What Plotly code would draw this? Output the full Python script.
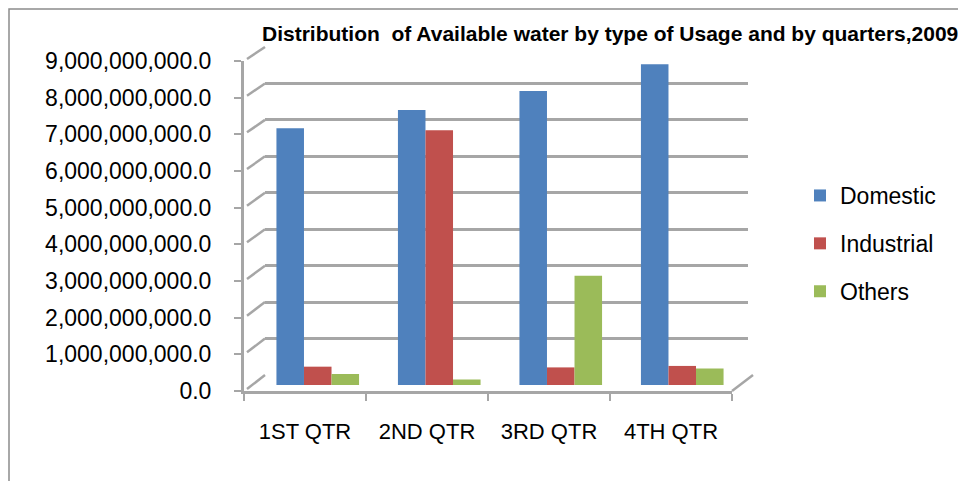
import plotly.graph_objects as go

categories = ["1ST QTR", "2ND QTR", "3RD QTR", "4TH QTR"]
domestic = [7.0e9, 7.5e9, 8.02e9, 8.75e9]
industrial = [0.5e9, 6.95e9, 0.48e9, 0.52e9]
others = [0.3e9, 0.15e9, 2.98e9, 0.45e9]
tick_vals = [i * 1e9 for i in range(10)]
tick_text = [f"{v:,.1f}" for v in tick_vals]
series_names = ["Domestic", "Industrial", "Others"]
colors = ["#4F81BD", "#C0504D", "#9BBB59"]

W, H = 966, 481
OFF = 8  # page body margin
def px(x): return (x - OFF) / W
def py(y): return 1 - (y - OFF) / H

# front plane (labels), back wall (gridlines), mid plane (bars) in screen px
front = dict(x0=244, x1=732, y0=391, y9=61)
back = dict(x0=265, x1=748, y0=375, y9=47)
mid = dict(x0=257, x1=743, y0=385, y9=55)
YMAX = 9e9
XR = [-0.5, len(categories) - 0.5]

fig = go.Figure()
# front axes anchor (xy)
fig.add_trace(go.Scatter(x=categories, y=[0]*4, mode="markers", marker_opacity=0,
                         showlegend=False, hoverinfo="skip", xaxis="x", yaxis="y"))
# back wall anchor (x2y2)
fig.add_trace(go.Scatter(x=categories, y=[0]*4, mode="markers", marker_opacity=0,
                         showlegend=False, hoverinfo="skip", xaxis="x2", yaxis="y2"))
# bars on mid plane (x3y3), drawn above the back wall
for name, vals, c in zip(series_names, [domestic, industrial, others], colors):
    fig.add_trace(go.Bar(x=categories, y=vals, name=name, marker_color=c,
                         marker_line=dict(color=c, width=0), legendgroup=name,
                         xaxis="x3", yaxis="y3"))

grid_c = "#A6A6A6"
font_main = "Liberation Sans, Arial, sans-serif"
hidden = dict(automargin=False, showticklabels=False, showgrid=False, zeroline=False,
              showline=False, fixedrange=True)

fig.update_layout(
    width=W, height=H,
    margin=dict(l=0, r=0, t=0, b=0, autoexpand=False),
    paper_bgcolor="white", plot_bgcolor="rgba(0,0,0,0)",
    barmode="group", bargap=0.32, bargroupgap=0,
    title=dict(text="<b>Distribution  of Available water by type of Usage and by quarters,2009</b>",
               x=px(262), xanchor="left", y=py(34), yanchor="middle",
               font=dict(family=font_main, size=21, color="black")),
    xaxis=dict(domain=[px(front["x0"]), px(front["x1"])], anchor="y", automargin=False,
               range=XR, showline=True, linecolor=grid_c, linewidth=2.5,
               ticks="outside", tickson="boundaries", ticklen=7, tickcolor=grid_c, tickwidth=2,
               ticklabelstandoff=19,
               tickfont=dict(family=font_main, size=22, color="black"),
               showgrid=False, zeroline=False, fixedrange=True),
    yaxis=dict(domain=[py(front["y0"]), py(front["y9"])], anchor="x", range=[0, YMAX],
               automargin=False, tickvals=tick_vals, ticktext=tick_text,
               showline=True, linecolor=grid_c, linewidth=3,
               ticks="outside", ticklen=7, tickcolor=grid_c, tickwidth=2,
               ticklabelstandoff=18,
               tickfont=dict(family=font_main, size=23, color="black"),
               showgrid=False, zeroline=False, fixedrange=True),
    xaxis2=dict(domain=[px(back["x0"]), px(back["x1"])], anchor="y2", range=XR, **hidden),
    yaxis2=dict(domain=[py(back["y0"]), py(back["y9"])], anchor="x2", range=[0, YMAX],
                automargin=False, tickvals=tick_vals, showticklabels=False, showgrid=True,
                gridcolor=grid_c, gridwidth=3, zeroline=False, showline=False, fixedrange=True),
    xaxis3=dict(domain=[px(mid["x0"]), px(mid["x1"])], anchor="y3", range=XR, **hidden),
    yaxis3=dict(domain=[py(mid["y0"]), py(mid["y9"])], anchor="x3", range=[0, YMAX], **hidden),
    legend=dict(x=px(800), y=py(174), xanchor="left", yanchor="top",
                font=dict(family=font_main, size=23, color="black"),
                traceorder="grouped", tracegroupgap=15, bgcolor="rgba(0,0,0,0)"),
)

def fy(p, v):
    return p["y0"] - (p["y0"] - p["y9"]) * v / YMAX

shapes = []
for v in tick_vals:
    shapes.append(dict(type="line", xref="paper", yref="paper",
                       x0=px(front["x0"] + 3), y0=py(fy(front, v) - 2),
                       x1=px(back["x0"]), y1=py(fy(back, v)),
                       line=dict(color=grid_c, width=2.5), layer="below"))
shapes.append(dict(type="line", xref="paper", yref="paper",
                   x0=px(front["x1"]), y0=py(front["y0"]),
                   x1=px(back["x1"] + 5), y1=py(back["y0"]),
                   line=dict(color=grid_c, width=2.5), layer="below"))
shapes.append(dict(type="rect", xref="paper", yref="paper",
                   x0=px(9), y0=py(9), x1=px(1000), y1=py(520),
                   line=dict(color="#8C8C8C", width=1.5), layer="below"))
fig.update_layout(shapes=shapes)

fig.write_html("out.html")
